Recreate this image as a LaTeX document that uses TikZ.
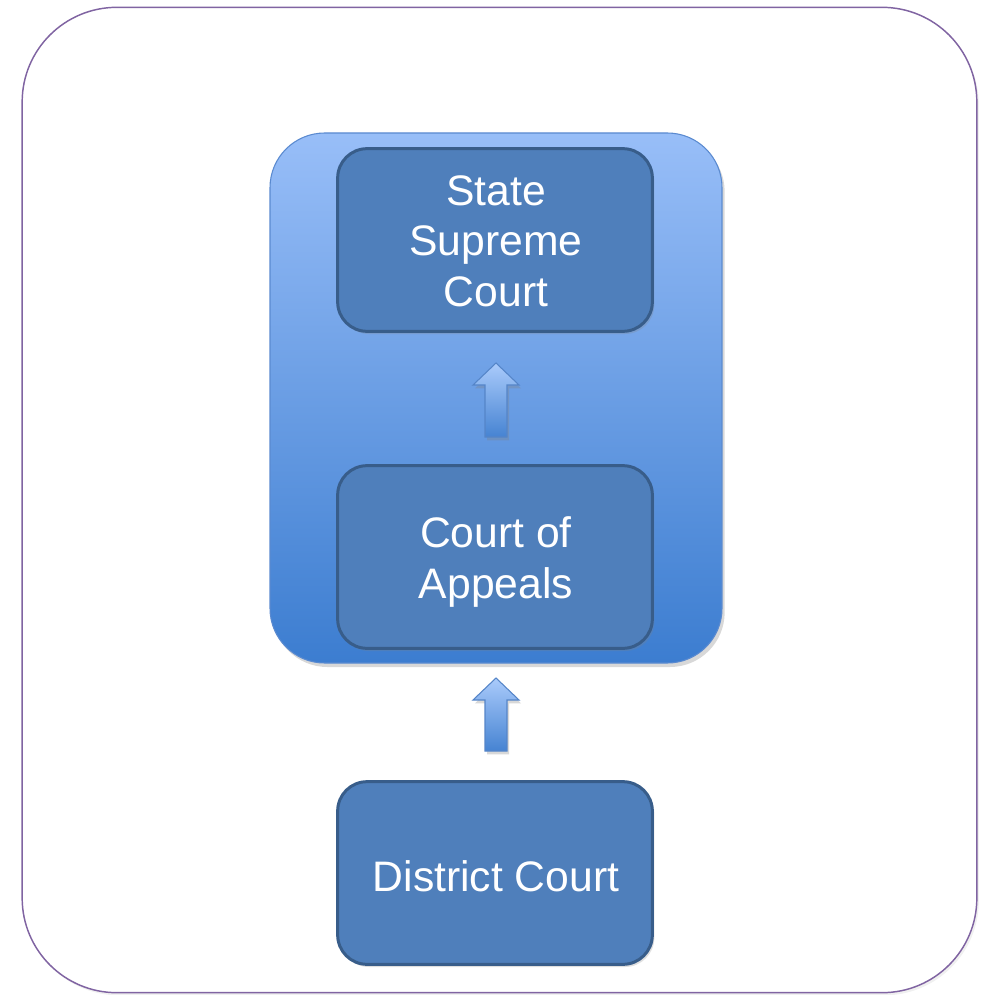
\documentclass[tikz,border=0pt]{standalone}
\usepackage{fontspec}
\setmainfont{Liberation Sans}
\usetikzlibrary{shadows}
\definecolor{frame}{HTML}{8064A2}
\definecolor{boxfill}{HTML}{4F7FBB}
\definecolor{boxline}{HTML}{385D8A}
\definecolor{grptop}{HTML}{98BEF8}
\definecolor{grpbot}{HTML}{3C7DD0}
\definecolor{grpline}{HTML}{5A8AD0}
\definecolor{arrtop}{HTML}{AACBFB}
\definecolor{arrbot}{HTML}{4683D2}
\definecolor{arrline}{HTML}{5585C8}
\tikzset{
  court/.style={rectangle, rounded corners=22pt, fill=boxfill, draw=boxline,
    line width=2.25pt, minimum width=236pt, minimum height=137pt,
    drop shadow={opacity=0.25, shadow xshift=1.5pt, shadow yshift=-2pt}},
  courttext/.style={text=white, align=center, font=\fontsize{32pt}{38pt}\selectfont},
  blockarrow/.style={top color=arrtop, bottom color=arrbot, draw=arrline, line width=0.8pt,
    line join=miter,
    drop shadow={opacity=0.3, shadow xshift=1.5pt, shadow yshift=-2.5pt}},
}
\begin{document}
\begin{tikzpicture}[x=0.75pt,y=-0.75pt]
\useasboundingbox (0,0) rectangle (982,995);
% outer frame
\node (frame) [draw=frame, line width=1.1pt, rounded corners=71pt, fill=white,
  minimum width=716pt, minimum height=739pt,
  drop shadow={opacity=0.12, shadow xshift=1.5pt, shadow yshift=-2pt}] at (499.5,500) {};
% group container
\node (group) [draw=grpline, line width=0.8pt, rounded corners=41pt,
  top color=grptop, bottom color=grpbot, minimum width=339pt, minimum height=397.5pt,
  drop shadow={opacity=0.3, shadow xshift=2pt, shadow yshift=-3pt}] at (496,398) {};
\node (ssc) [court] at (495,240) {};
\node (coa) [court] at (495,557) {};
\node (dc) [court] at (495,873) {};
\node (ssct) [courttext] at (496,241) {State\\Supreme\\Court};
\node (coat) [courttext] at (496,562) {Court of\\Appeals};
\node (dct) [courttext] at (496,876) {District Court};
% arrows
\coordinate (t1) at (496,363);
\coordinate (t2) at (496,678);
\path[blockarrow] (t1) -- ++(23,22) -- ++(-12,0) -- ++(0,52) -- ++(-22,0) -- ++(0,-52) -- ++(-12,0) -- cycle;
\path[blockarrow] (t2) -- ++(23,22) -- ++(-12,0) -- ++(0,51) -- ++(-22,0) -- ++(0,-51) -- ++(-12,0) -- cycle;
\end{tikzpicture}
\end{document}
